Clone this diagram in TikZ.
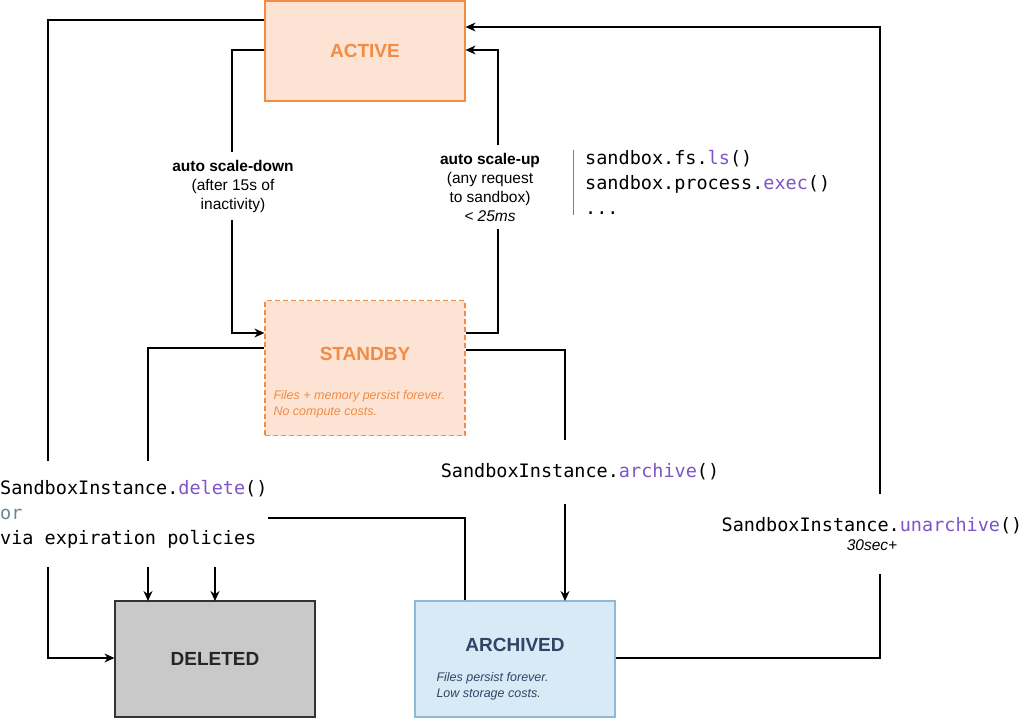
\documentclass[tikz,border=0pt]{standalone}
\usepackage{fontspec}
\setmainfont{Liberation Sans}
\newfontfamily\codefont{DejaVu Sans Mono}
\usetikzlibrary{arrows.meta}
\definecolor{actfill}{HTML}{FCE3D3}
\definecolor{actline}{HTML}{F28B44}
\definecolor{archfill}{HTML}{D7EAF5}
\definecolor{archline}{HTML}{8CBBD5}
\definecolor{archtext}{HTML}{2F4565}
\definecolor{delfill}{HTML}{C9C9C9}
\definecolor{fn}{HTML}{7D55C7}
\definecolor{ortext}{HTML}{6B8899}
\newcommand\fn[1]{\textcolor{fn}{#1}}

\begin{document}
\begin{tikzpicture}[x=1pt, y=-1pt,
    state/.style={minimum width=200pt, line width=1.2pt, font=\fontsize{19}{22}\selectfont\bfseries},
    lbl/.style={fill=white, align=center, font=\fontsize{15.5}{19}\selectfont},
    code/.style={fill=white, align=left, font=\codefont\fontsize{18.5}{25}\selectfont},
    note/.style={align=left, font=\fontsize{12.5}{16}\selectfont\itshape, anchor=west},
    conn/.style={line width=1.1pt},
    arr/.style={conn, -{Stealth[length=10pt, width=9pt]}}]
    \useasboundingbox (0,0) rectangle (1024,719);

    % states
    \node[state, draw=actline, fill=actfill, text=actline, minimum height=100pt] (active) at (365,51) {ACTIVE};
    \node[state, draw=actline, fill=actfill, dash pattern=on 5pt off 3pt, minimum height=135pt] (standby) at (365,368) {};
    \node[text=actline, font=\fontsize{19}{22}\selectfont\bfseries] (standbytitle) at (365,354) {STANDBY};
    \node[note, text=actline] (standbynote) at (270,404) {Files + memory persist forever.\\No compute costs.};
    \node[state, draw=black!80, fill=delfill, text=black!85, minimum height=116pt] (deleted) at (215,659) {DELETED};
    \node[state, draw=archline, fill=archfill, minimum height=116pt] (archived) at (515,659) {};
    \node[text=archtext, font=\fontsize{19}{22}\selectfont\bfseries] (archivedtitle) at (515,645) {ARCHIVED};
    \node[note, text=archtext] (archivednote) at (433,686) {Files persist forever.\\Low storage costs.};

    % connectors
    \draw[arr] (active.west |- 0,50) -- (232,50) -- (232,333) -- (standby.west |- 0,333);
    \draw[arr] (standby.east |- 0,333) -- (498,333) -- (498,50) -- (active.east |- 0,50);
    \draw[arr] (active.west |- 0,20) -- (48,20) -- (48,658) -- (deleted.west |- 0,658);
    \draw[arr] (standby.west |- 0,348) -- (148,348) -- (148,601);
    \draw[arr] (archived.north -| 465,0) -- (465,518) -- (215,518) -- (215,601);
    \draw[arr] (standby.east |- 0,350) -- (565,350) -- (565,601);
    \draw[arr] (archived.east |- 0,658) -- (880,658) -- (880,27) -- (active.east |- 0,27);

    % labels
    \node[lbl, inner sep=8pt] (down) at (233,186) {\textbf{auto scale-down}\\(after 15s of\\inactivity)};
    \node[lbl, inner sep=8pt] (up) at (490,187) {\textbf{auto scale-up}\\(any request\\to sandbox)\\\textit{< 25ms}};
    \node[code, anchor=west, inner sep=0pt] (snippet) at (585,182) {sandbox.fs.\fn{ls}()\\sandbox.process.\fn{exec}()\\...};
    \draw[conn, black!50, line width=0.8pt] (573,150) -- (573,215);
    \node[code, anchor=west, inner sep=0pt, minimum height=106pt] (delete) at (0,514) {SandboxInstance.\fn{delete}()\\\textcolor{ortext}{or}\\via expiration policies};
    \node[code, inner sep=0pt, minimum height=64pt, minimum width=290pt] (archive) at (580,472) {SandboxInstance.\fn{archive}()};
    \node[lbl, inner sep=0pt, minimum height=80pt] (unarchive) at (872,534) {{\codefont\fontsize{18.5}{23}\selectfont SandboxInstance.\fn{unarchive}()}\\\textit{30sec+}};
\end{tikzpicture}
\end{document}
